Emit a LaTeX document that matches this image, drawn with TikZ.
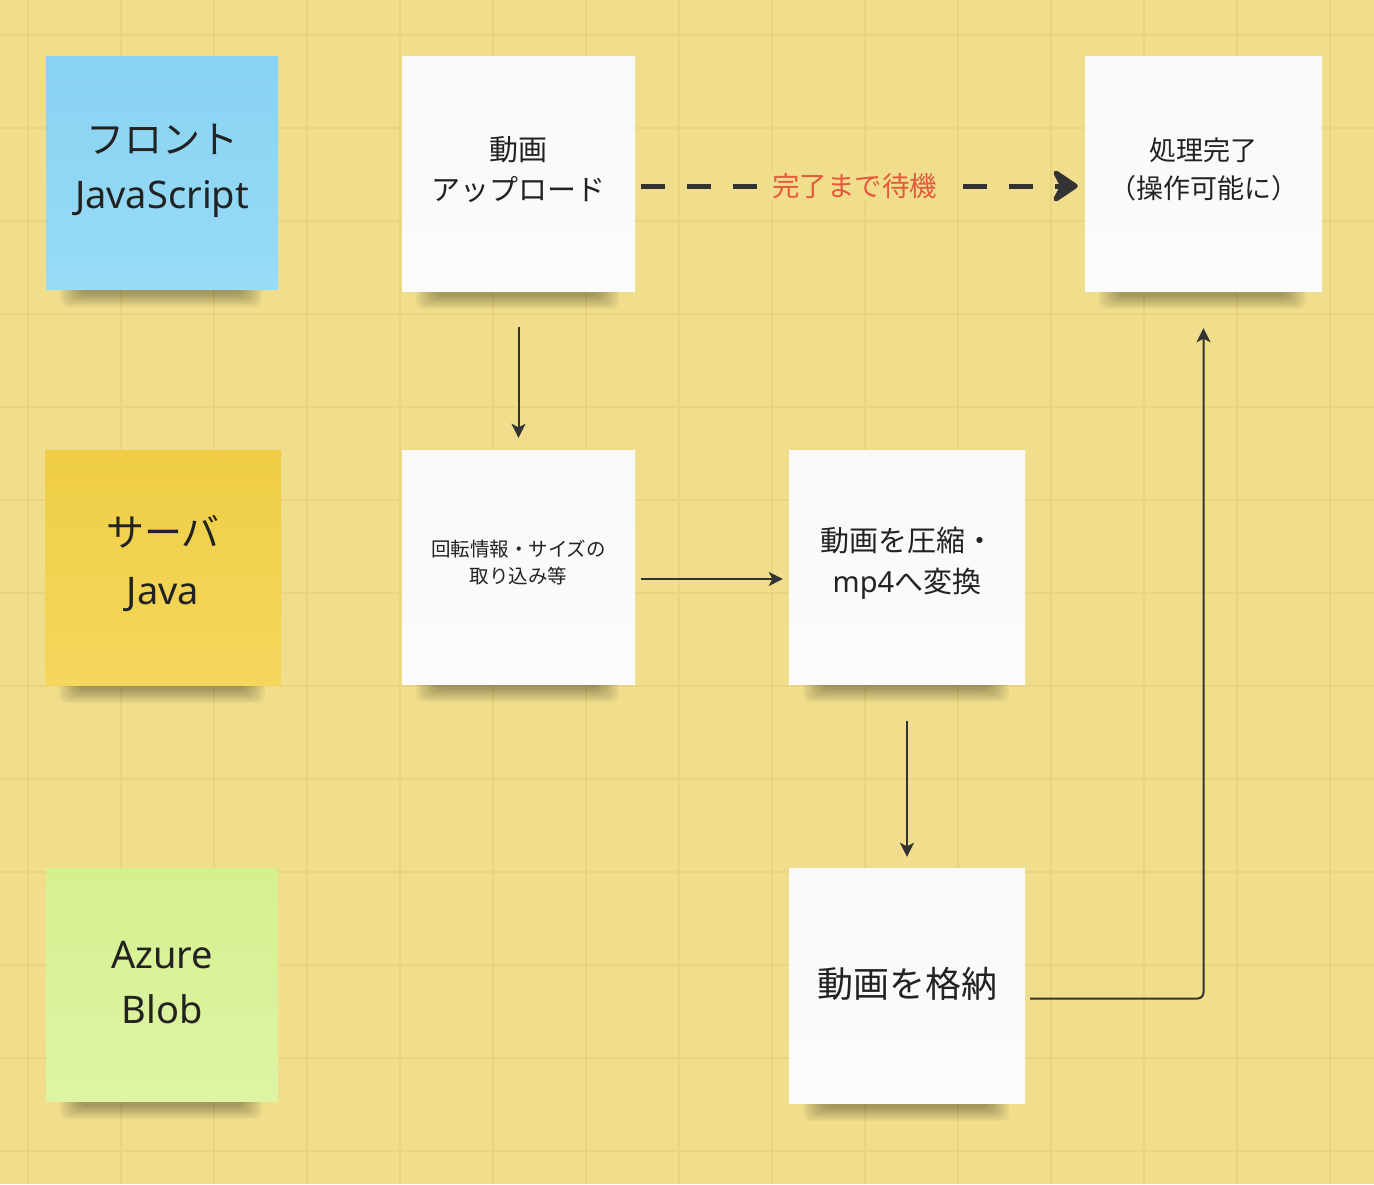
\documentclass[tikz,border=0pt]{standalone}
\usepackage{fontspec}
\setmainfont{Noto Sans}
\newfontfamily\jp{Noto Sans CJK JP}
\usetikzlibrary{arrows.meta,calc}
\definecolor{bgyellow}{HTML}{F1DE8C}
\definecolor{gridc}{HTML}{EAD47F}
\definecolor{txt}{HTML}{222222}
\definecolor{lbl}{HTML}{E35A3C}
\definecolor{linec}{HTML}{333333}
\definecolor{blue1}{HTML}{88D2F2}
\definecolor{blue2}{HTML}{98DCF6}
\definecolor{yel1}{HTML}{EFCD45}
\definecolor{yel2}{HTML}{F4D75C}
\definecolor{grn1}{HTML}{D6F08F}
\definecolor{grn2}{HTML}{DEF4A4}
\pgfdeclarelayer{back}
\pgfsetlayers{back,main}
\tikzset{
  gridline/.style={draw=gridc,line width=1.5pt},
  note/.style={rectangle,inner sep=0pt,text=txt,align=center},
  whitenote/.style={note,top color=white!95!gray,bottom color=white!97!gray},
  notetext/.style={text=txt,align=center},
  conn/.style={draw=linec,line width=2pt,-{Stealth[length=14pt,width=14pt,inset=3.5pt]}},
  waitconn/.style={draw=linec,line width=5pt,dash pattern=on 24pt off 22pt,
     -{Stealth[length=30pt 0,width=40pt 0,inset=10pt 0,line join=round]}},
}
\begin{document}
\begin{tikzpicture}[x=1pt,y=-1pt]
\useasboundingbox (0,0) rectangle (1374,1184);
\begin{pgfonlayer}{back}
\fill[bgyellow] (0,0) rectangle (1374,1184);
\foreach \i in {0,...,14} \draw[gridline] (28+93*\i,0) -- ++(0,1184);
\foreach \j in {0,...,12} \draw[gridline] (0,35+93*\j) -- ++(1374,0);
\end{pgfonlayer}

% notes
\node[note,top color=blue1,bottom color=blue2,minimum width=232pt,minimum height=233pt]
  (front) at (162,172.5) {};
\node[notetext,font=\fontsize{38}{55}\selectfont] at ($(front)+(0,-2)$) {{\jp フロント}\\JavaScript};
\node[whitenote,minimum width=233pt,minimum height=235pt]
  (up) at (518.5,173.5) {};
\node[notetext,font=\fontsize{29}{40}\selectfont\jp] at ($(up)+(0,-4)$) {動画\\アップロード};
\node[whitenote,minimum width=237pt,minimum height=235pt]
  (done) at (1203.5,173.5) {};
\node[notetext,font=\fontsize{27}{38}\selectfont\jp] at ($(done)+(0,-4)$) {処理完了\\（操作可能に）};

\node[note,top color=yel1,bottom color=yel2,minimum width=236pt,minimum height=235pt]
  (srv) at (163,567.5) {};
\node[notetext,font=\fontsize{38}{58}\selectfont] at ($(srv)+(0,-4)$) {{\jp サーバ}\\Java};
\node[whitenote,minimum width=233pt,minimum height=234pt]
  (rot) at (518.5,567) {};
\node[notetext,font=\fontsize{19.5}{27}\selectfont\jp] at ($(rot)+(0,-5)$) {回転情報・サイズの\\取り込み等};
\node[whitenote,minimum width=236pt,minimum height=234pt]
  (comp) at (907,567) {};
\node[notetext,font=\fontsize{29}{41}\selectfont] at ($(comp)+(0,-4)$) {{\jp 動画を圧縮・}\\mp4{\jp へ変換}};

\node[note,top color=grn1,bottom color=grn2,minimum width=232pt,minimum height=233pt]
  (blob) at (162,984.5) {};
\node[notetext,font=\fontsize{38}{55}\selectfont] at ($(blob)+(0,-2)$) {Azure\\Blob};
\node[whitenote,minimum width=236pt,minimum height=235pt]
  (store) at (907,985.5) {};
\node[notetext,font=\fontsize{36}{44}\selectfont\jp] at ($(store)+(0,-2)$) {動画を格納};

% shadows
\begin{pgfonlayer}{back}
\foreach \n in {front,up,done,srv,rot,comp,blob,store}{
  \foreach \k in {0,...,9}{
    \fill[black,opacity=0.035,rounded corners=8pt]
      ($(\n.south west)+(14+2.2*\k,-10)$) rectangle ($(\n.south east)+(-16-2.2*\k,18-1.5*\k)$);
  }
}
\end{pgfonlayer}

% connectors
\draw[conn,shorten <=36pt,shorten >=12pt] (up.south) -- (rot.north);
\draw[conn,shorten <=6pt,shorten >=6pt] ([yshift=-12pt]rot.east) -- ([yshift=-12pt]comp.west);
\draw[conn,shorten <=37pt,shorten >=11pt] (comp.south) -- (store.north);
\draw[conn,rounded corners=6pt,shorten >=37pt] ([xshift=5pt,yshift=-13pt]store.east) -| (done.south);
\draw[waitconn,shorten <=6pt,shorten >=7pt] ([yshift=-12.5pt]up.east) --
  node[pos=0.488,fill=bgyellow,text=lbl,inner xsep=12pt,inner ysep=2pt,font=\fontsize{27.5}{30}\selectfont\jp] (wait) {完了まで待機}
  ([yshift=-12.5pt]done.west);
\end{tikzpicture}
\end{document}
